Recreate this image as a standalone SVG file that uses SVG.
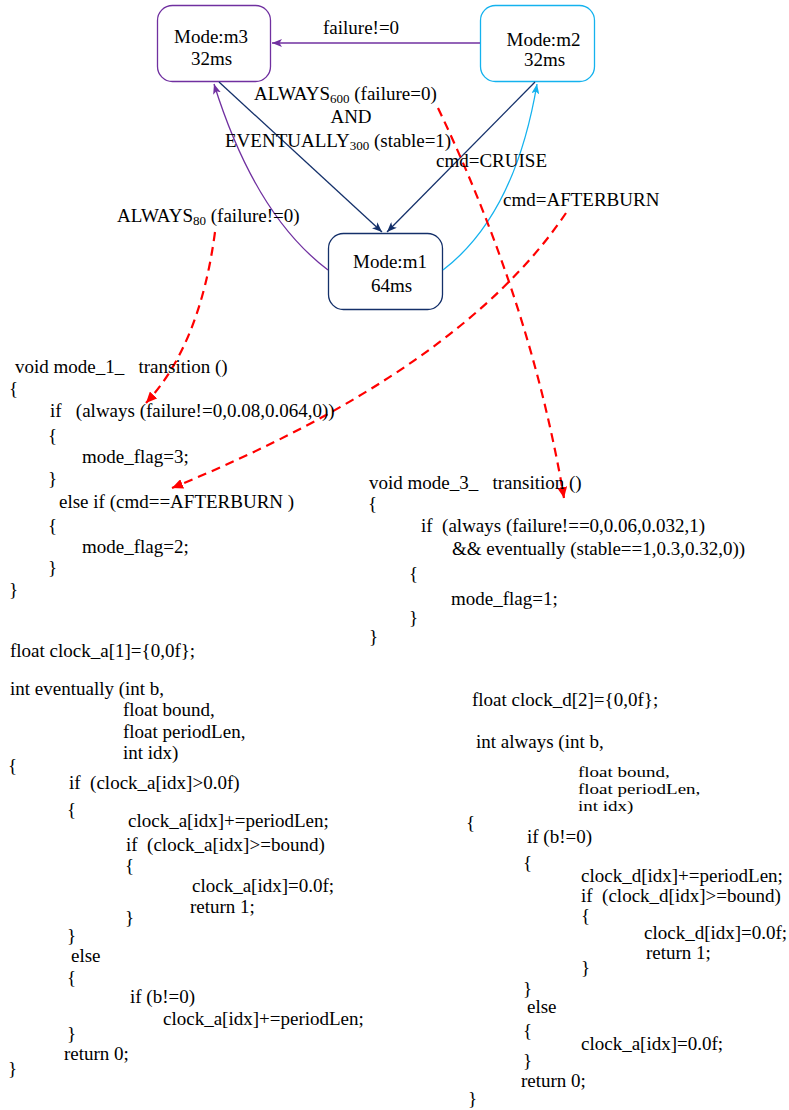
<svg xmlns="http://www.w3.org/2000/svg" width="789" height="1110" viewBox="0 0 789 1110">
  <style>
    text { font-family: "Liberation Serif", "Times New Roman", serif; font-size: 19px; fill: #000; white-space: pre; }
    .mid { text-anchor: middle; }
    .sub { font-size: 13px; }
    .node { fill: #fff; stroke-width: 1.3; }
    .edge { fill: none; stroke-width: 1.3; }
    .ref { fill: none; stroke: #ff0000; stroke-width: 2.2; stroke-dasharray: 9 6; }
  </style>
  <defs>
    <marker id="arrPurple" markerUnits="userSpaceOnUse" markerWidth="11" markerHeight="8" refX="10" refY="4" orient="auto">
      <path d="M0,0 L10,4 L0,8 L2.5,4 z" fill="#7030a0"/>
    </marker>
    <marker id="arrNavy" markerUnits="userSpaceOnUse" markerWidth="11" markerHeight="8" refX="10" refY="4" orient="auto">
      <path d="M0,0 L10,4 L0,8 L2.5,4 z" fill="#14306a"/>
    </marker>
    <marker id="arrBlue" markerUnits="userSpaceOnUse" markerWidth="11" markerHeight="8" refX="10" refY="4" orient="auto">
      <path d="M0,0 L10,4 L0,8 L2.5,4 z" fill="#14b2ee"/>
    </marker>
    <marker id="arrRed" markerUnits="userSpaceOnUse" markerWidth="12" markerHeight="10" refX="11" refY="5" orient="auto">
      <path d="M0,0 L11,5 L0,10 z" fill="#ff0000"/>
    </marker>
  </defs>

  <!-- mode nodes -->
  <g id="m3">
    <rect class="node" x="157.5" y="5.5" width="113" height="76" rx="15" stroke="#7030a0"/>
    <text class="mid" x="211" y="43">Mode:m3</text>
    <text class="mid" x="211.5" y="65">32ms</text>
  </g>
  <g id="m2">
    <rect class="node" x="480.5" y="5.5" width="114" height="76" rx="15" stroke="#14b2ee"/>
    <text class="mid" x="543.5" y="46">Mode:m2</text>
    <text class="mid" x="544.5" y="66">32ms</text>
  </g>
  <g id="m1">
    <rect class="node" x="328.5" y="233.5" width="114" height="76" rx="15" stroke="#14306a"/>
    <text class="mid" x="390" y="268">Mode:m1</text>
    <text class="mid" x="391.5" y="292">64ms</text>
  </g>

  <!-- transitions between modes -->
  <g id="connectors">
    <path class="edge" d="M480,43 L272,43" stroke="#7030a0" marker-end="url(#arrPurple)"/>
    <path class="edge" d="M219,82 L382,232" stroke="#14306a" marker-end="url(#arrNavy)"/>
    <path class="edge" d="M535,82 L387,232" stroke="#14306a" marker-end="url(#arrNavy)"/>
    <path class="edge" d="M328,270 Q255,215 214,84" stroke="#7030a0" marker-end="url(#arrPurple)"/>
    <path class="edge" d="M443,270 Q515,215 537,84" stroke="#14b2ee" marker-end="url(#arrBlue)"/>

    <!-- guard-to-code references -->
    <path class="ref" d="M215,232 Q200,345 146,403" marker-end="url(#arrRed)"/>
    <path class="ref" d="M566,213 Q460,370 172,488" marker-end="url(#arrRed)"/>
    <path class="ref" d="M438,108 Q531,303 564,498" marker-end="url(#arrRed)"/>
  </g>

  <!-- guard labels -->
  <g id="labels">
    <text x="323" y="34">failure!=0</text>
    <text x="254" y="100">ALWAYS<tspan class="sub" dy="3">600</tspan><tspan dy="-3"> (failure=0)</tspan></text>
    <text class="mid" x="351" y="123">AND</text>
    <text x="225" y="147">EVENTUALLY<tspan class="sub" dy="3">300</tspan><tspan dy="-3"> (stable=1)</tspan></text>
    <text x="436" y="167">cmd=CRUISE</text>
    <text x="503" y="206">cmd=AFTERBURN</text>
    <text x="117" y="222">ALWAYS<tspan class="sub" dy="3">80</tspan><tspan dy="-3"> (failure!=0)</tspan></text>
  </g>

  <!-- mode 1 transition function -->
  <g id="code-mode1">
    <text x="15" y="373">void mode_1_   transition ()</text>
    <text x="9" y="395">{</text>
    <text x="50" y="417">if   (always (failure!=0,0.08,0.064,0))</text>
    <text x="48" y="442">{</text>
    <text x="82" y="463">mode_flag=3;</text>
    <text x="48" y="485">}</text>
    <text x="59" y="508">else if (cmd==AFTERBURN )</text>
    <text x="48" y="532">{</text>
    <text x="82" y="553">mode_flag=2;</text>
    <text x="48" y="574">}</text>
    <text x="9" y="596">}</text>
  </g>

  <!-- mode 3 transition function -->
  <g id="code-mode3">
    <text x="369" y="489">void mode_3_   transition ()</text>
    <text x="368" y="510">{</text>
    <text x="421" y="532">if  (always (failure!==0,0.06,0.032,1)</text>
    <text x="452" y="555">&amp;&amp; eventually (stable==1,0.3,0.32,0))</text>
    <text x="409" y="580">{</text>
    <text x="451" y="605">mode_flag=1;</text>
    <text x="409" y="624">}</text>
    <text x="369" y="643">}</text>
  </g>

  <!-- eventually operator -->
  <g id="code-eventually">
    <text x="10" y="657">float clock_a[1]={0,0f};</text>
    <text x="10" y="695">int eventually (int b,</text>
    <text x="123" y="716">float bound,</text>
    <text x="123" y="738">float periodLen,</text>
    <text x="123" y="759">int idx)</text>
    <text x="8" y="772">{</text>
    <text x="69" y="789">if  (clock_a[idx]&gt;0.0f)</text>
    <text x="67" y="816">{</text>
    <text x="128" y="827">clock_a[idx]+=periodLen;</text>
    <text x="126" y="851">if  (clock_a[idx]&gt;=bound)</text>
    <text x="125" y="872">{</text>
    <text x="192" y="892">clock_a[idx]=0.0f;</text>
    <text x="190" y="913">return 1;</text>
    <text x="125" y="924">}</text>
    <text x="67" y="942">}</text>
    <text x="71" y="962">else</text>
    <text x="67" y="984">{</text>
    <text x="130" y="1003">if (b!=0)</text>
    <text x="163" y="1025">clock_a[idx]+=periodLen;</text>
    <text x="67" y="1040">}</text>
    <text x="64" y="1060">return 0;</text>
    <text x="8" y="1075">}</text>
  </g>

  <!-- always operator; its parameter list is set in a vertically condensed face -->
  <g id="code-always">
    <text x="472" y="706">float clock_d[2]={0,0f};</text>
    <text x="476" y="748">int always (int b,</text>
    <text transform="translate(578,777) scale(1,0.82)">float bound,</text>
    <text transform="translate(578,794) scale(1,0.82)">float periodLen,</text>
    <text transform="translate(578,811) scale(1,0.82)">int idx)</text>
    <text x="466" y="829">{</text>
    <text x="527" y="843">if (b!=0)</text>
    <text x="523" y="869">{</text>
    <text x="581" y="882">clock_d[idx]+=periodLen;</text>
    <text x="581" y="902">if  (clock_d[idx]&gt;=bound)</text>
    <text x="581" y="922">{</text>
    <text x="644" y="939">clock_d[idx]=0.0f;</text>
    <text x="646" y="959">return 1;</text>
    <text x="581" y="974">}</text>
    <text x="523" y="995">}</text>
    <text x="527" y="1013">else</text>
    <text x="523" y="1037">{</text>
    <text x="581" y="1050">clock_a[idx]=0.0f;</text>
    <text x="523" y="1067">}</text>
    <text x="521" y="1087">return 0;</text>
    <text x="468" y="1105">}</text>
  </g>
</svg>
